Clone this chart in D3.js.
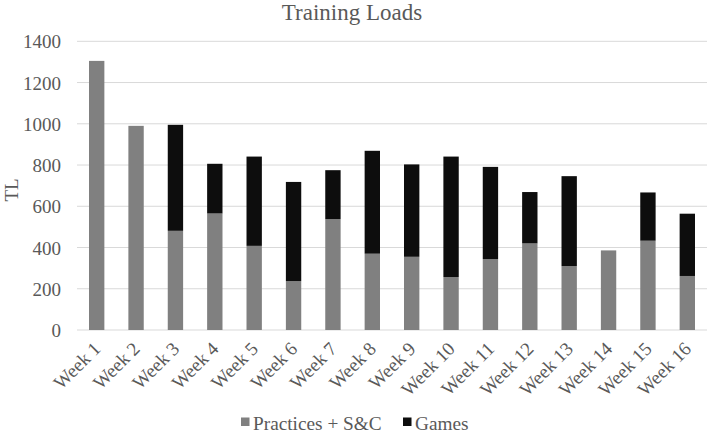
<!DOCTYPE html>
<html><head><meta charset="utf-8">
<script src="https://cdn.jsdelivr.net/npm/d3@7/dist/d3.min.js"></script>
<style>body{margin:0;background:#fff;} svg{display:block;} svg text{font-family:"Liberation Serif","Times New Roman",serif !important;}</style>
</head><body>
<svg id="c" width="711" height="435"></svg>
<script>
const weeks = ["Week 1","Week 2","Week 3","Week 4","Week 5","Week 6","Week 7","Week 8","Week 9","Week 10","Week 11","Week 12","Week 13","Week 14","Week 15","Week 16"];
const practices = [1305, 990, 481, 565, 408, 237, 538, 370, 355, 257, 344, 420, 310, 386, 433, 262];
const games = [0, 0, 514, 241, 433, 481, 237, 499, 448, 584, 447, 249, 436, 0, 234, 302];
const yTicks = [0, 200, 400, 600, 800, 1000, 1200, 1400];
const seriesNames = ["Practices + S&C", "Games"];
const colors = ["#808080", "#0d0d0d"];

(function(){
const svg = d3.select("#c");
const txt = "#595959";
const mLeft = 77, mRight = 707, mTop = 41.3, mBottom = 330;

const x = d3.scaleBand().domain(weeks).range([mLeft, mRight]).paddingInner(0.61).paddingOuter(0.305);
const y = d3.scaleLinear().domain([0, 1400]).range([mBottom, mTop]);

// gridlines
svg.append("g").selectAll("line").data(yTicks).join("line")
  .attr("x1", mLeft).attr("x2", mRight)
  .attr("y1", d => y(d)).attr("y2", d => y(d))
  .attr("stroke", "#d9d9d9").attr("stroke-width", 1);

// stacked data
const rows = weeks.map((w, i) => ({week: w, p: practices[i], g: games[i]}));
const stack = d3.stack().keys(["p", "g"])(rows);
svg.append("g").selectAll("g").data(stack).join("g")
  .attr("fill", (d, i) => colors[i])
  .selectAll("rect").data(d => d).join("rect")
  .attr("x", d => x(d.data.week))
  .attr("width", x.bandwidth())
  .attr("y", d => y(d[1]))
  .attr("height", d => Math.max(0, y(d[0]) - y(d[1])));

// y axis labels
const yAxis = d3.axisLeft(y).tickValues(yTicks).tickFormat(d3.format("d")).tickSize(0).tickPadding(16);
const ya = svg.append("g").attr("transform", `translate(${mLeft},0)`).call(yAxis);
ya.select(".domain").remove();
ya.selectAll("text").style("font-size", "19px").attr("fill", txt).attr("dy", "0.35em");

// x axis labels
const xAxis = d3.axisBottom(x).tickSize(0).tickPadding(0);
const xa = svg.append("g").attr("transform", `translate(0,${mBottom})`).call(xAxis);
xa.select(".domain").remove();
xa.selectAll("text")
  .style("font-size", "19px").attr("fill", txt)
  .attr("text-anchor", "end").attr("dy", null).attr("y", null)
  .attr("transform", "translate(5,20) rotate(-45)");

// title
svg.append("text").attr("x", 352).attr("y", 20).attr("text-anchor", "middle")
  .style("font-size", "23px").attr("fill", txt).text("Training Loads");

// y label
svg.append("text").attr("transform", "translate(18,190) rotate(-90)").attr("text-anchor", "middle")
  .style("font-size", "19px").attr("fill", txt).text("TL");

// legend
const legX = [241, 403];
const leg = svg.append("g").selectAll("g").data(seriesNames).join("g")
  .attr("transform", (d, i) => `translate(${legX[i]},0)`);
leg.append("rect").attr("x", 0).attr("y", 417.5).attr("width", 8.5).attr("height", 8.5)
  .attr("fill", (d, i) => colors[i]);
leg.append("text").attr("x", 12).attr("y", 430)
  .style("font-size", "19.3px").attr("fill", txt).text(d => d);
})();
</script>
</body></html>
